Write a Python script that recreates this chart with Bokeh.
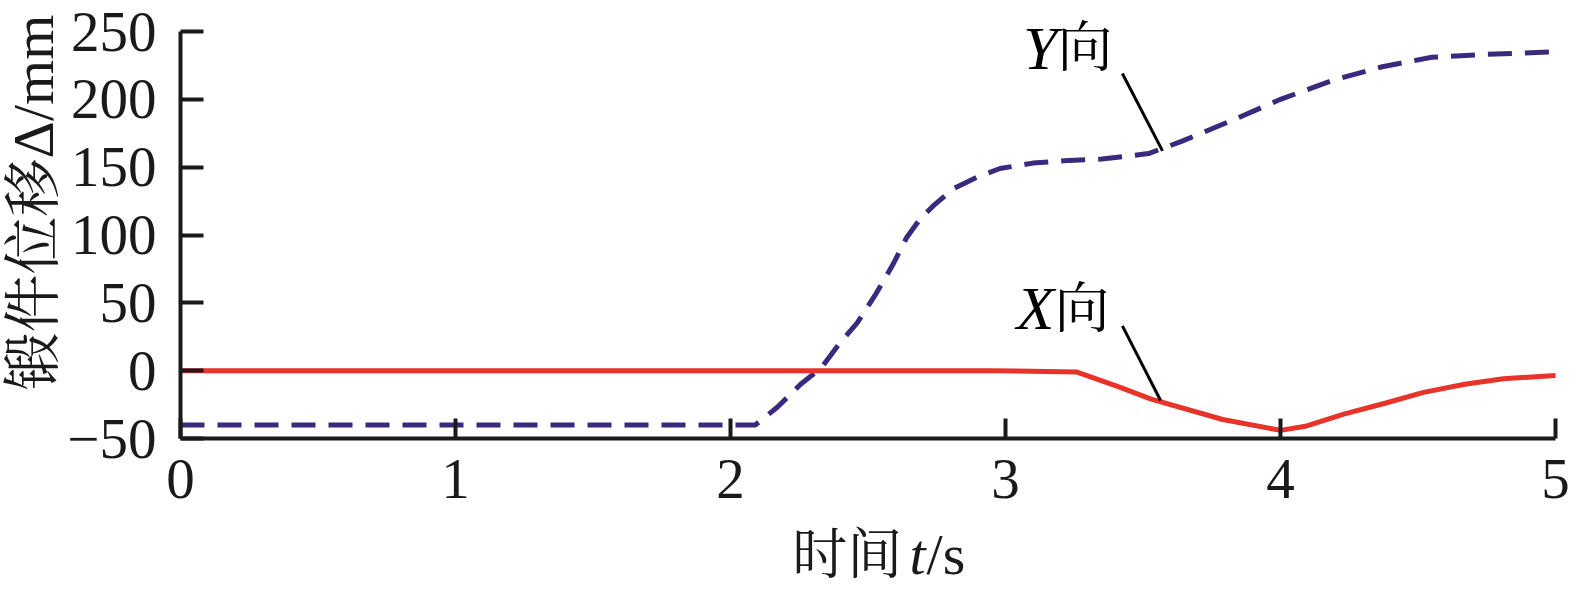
from math import pi
from bokeh.plotting import figure
from bokeh.models import Range1d, FixedTicker, ColumnDataSource
from bokeh.core.properties import value
from bokeh.embed import file_html
from bokeh.resources import INLINE

# ---- data ----
t_x = [0, 2.95, 3.26, 3.40, 3.53, 3.79, 4.0, 4.09, 4.23, 4.38, 4.52, 4.67, 4.81, 5.0]
x_disp = [0, 0, -1, -11, -21, -36, -44, -41, -32, -24, -16, -10, -6, -3.5]

t_y = [0, 2.09, 2.17, 2.255, 2.33, 2.40, 2.46, 2.53, 2.59, 2.64, 2.69, 2.74, 2.81,
       2.90, 2.98, 3.10, 3.23, 3.35, 3.52, 3.64, 3.83, 4.0, 4.19, 4.37, 4.55, 4.73, 5.0]
y_disp = [-40, -40, -27, -10, 2, 21, 35, 57, 78, 98, 112, 122, 134,
          143, 149, 153, 155, 156, 160, 169, 185, 200, 214, 224, 231, 233, 235]

x_ticks = [0, 1, 2, 3, 4, 5]
y_ticks = [-50, 0, 50, 100, 150, 200, 250]
y_tick_labels = {-50: "\u221250"}

ann_letters = ["Y", "X"]
ann_suffix = ["向", "向"]
ann_x = [3.189, 3.178]
ann_y = [238, 46]
lead_x0 = [3.425, 3.425]
lead_y0 = [219, 33]
lead_x1 = [3.571, 3.564]
lead_y1 = [162, -22]

x_title_cjk = "时间"
x_title_var = "t"
x_title_unit = "/s"
y_title = "锻件位移Δ/mm"

SERIF = "Liberation Serif, 'Noto Serif CJK SC', 'Noto Sans CJK SC'"
INK = "#1a1a1a"

# frame covers whole canvas; axes are pinned to data locations
W, H = 1581, 591
X0_PX, XSCALE = 180.0, 275.0          # px of t=0, px per second
Y0_PX, YSCALE = 370.17, 1.3567        # px of 0 mm, px per mm
x_range = Range1d(-X0_PX / XSCALE, (W - X0_PX) / XSCALE)
y_range = Range1d((Y0_PX - H) / YSCALE, Y0_PX / YSCALE)

p = figure(width=W, height=H, output_backend="svg", toolbar_location=None,
           x_range=x_range, y_range=y_range,
           min_border_left=0, min_border_right=0, min_border_top=0, min_border_bottom=0)
p.outline_line_color = None
p.grid.visible = False
p.background_fill_color = "white"

# lines
p.line(t_y, y_disp, line_color="#3a2a7e", line_width=5, line_dash="24 13")
p.line(t_x, x_disp, line_color="#e8332a", line_width=5)

# leader lines
p.segment(x0=lead_x0, y0=lead_y0, x1=lead_x1, y1=lead_y1, line_color="black", line_width=3)

src = ColumnDataSource(dict(x=ann_x, y=ann_y, a=ann_letters, b=ann_suffix))
p.text(x="x", y="y", text="a", source=src, text_font=value("Liberation Serif"),
       text_font_style="italic", text_font_size="62px", text_align="right",
       text_baseline="middle", text_color="black")
p.text(x="x", y="y", text="b", source=src, text_font=value(SERIF),
       text_font_size="55px", text_align="left",
       text_baseline="middle", text_color="black")

# axes
for ax in (p.xaxis[0], p.yaxis[0]):
    ax.axis_line_width = 4
    ax.axis_line_color = INK
    ax.major_tick_line_width = 4
    ax.major_tick_line_color = INK
    ax.major_tick_out = 0
    ax.minor_tick_line_color = None
    ax.major_label_text_font = SERIF
    ax.major_label_text_font_size = "57px"
    ax.major_label_text_color = INK

p.xaxis.ticker = FixedTicker(ticks=x_ticks)
p.xaxis.bounds = (0, 5)
p.xaxis.fixed_location = -50
p.xaxis.major_tick_in = 20
p.xaxis.major_label_standoff = 21

p.yaxis.ticker = FixedTicker(ticks=y_ticks)
p.yaxis.bounds = (-50, 250)
p.yaxis.fixed_location = 0
p.yaxis.major_tick_in = 23
p.yaxis.major_label_standoff = 24
p.yaxis.major_label_overrides = y_tick_labels

# axis titles (mixed upright / italic)
xt_mid = -135.5
p.text(x=[2.625], y=[xt_mid], text=[x_title_cjk], text_font=value(SERIF),
       text_font_size="55px", text_align="right", text_baseline="middle", text_color=INK)
p.text(x=[2.651], y=[xt_mid], text=[x_title_var], text_font=value("Liberation Serif"),
       text_font_style="italic", text_font_size="58px", text_align="left",
       text_baseline="middle", text_color=INK)
p.text(x=[2.713], y=[xt_mid], text=[x_title_unit], text_font=value("Liberation Serif"),
       text_font_size="58px", text_align="left", text_baseline="middle", text_color=INK)
p.text(x=[-0.5345], y=[123.9], text=[y_title], text_font=value(SERIF),
       text_font_size="58px", text_align="center", text_baseline="middle",
       angle=pi / 2, text_color=INK)

open("out.html", "w").write(file_html(p, INLINE))
